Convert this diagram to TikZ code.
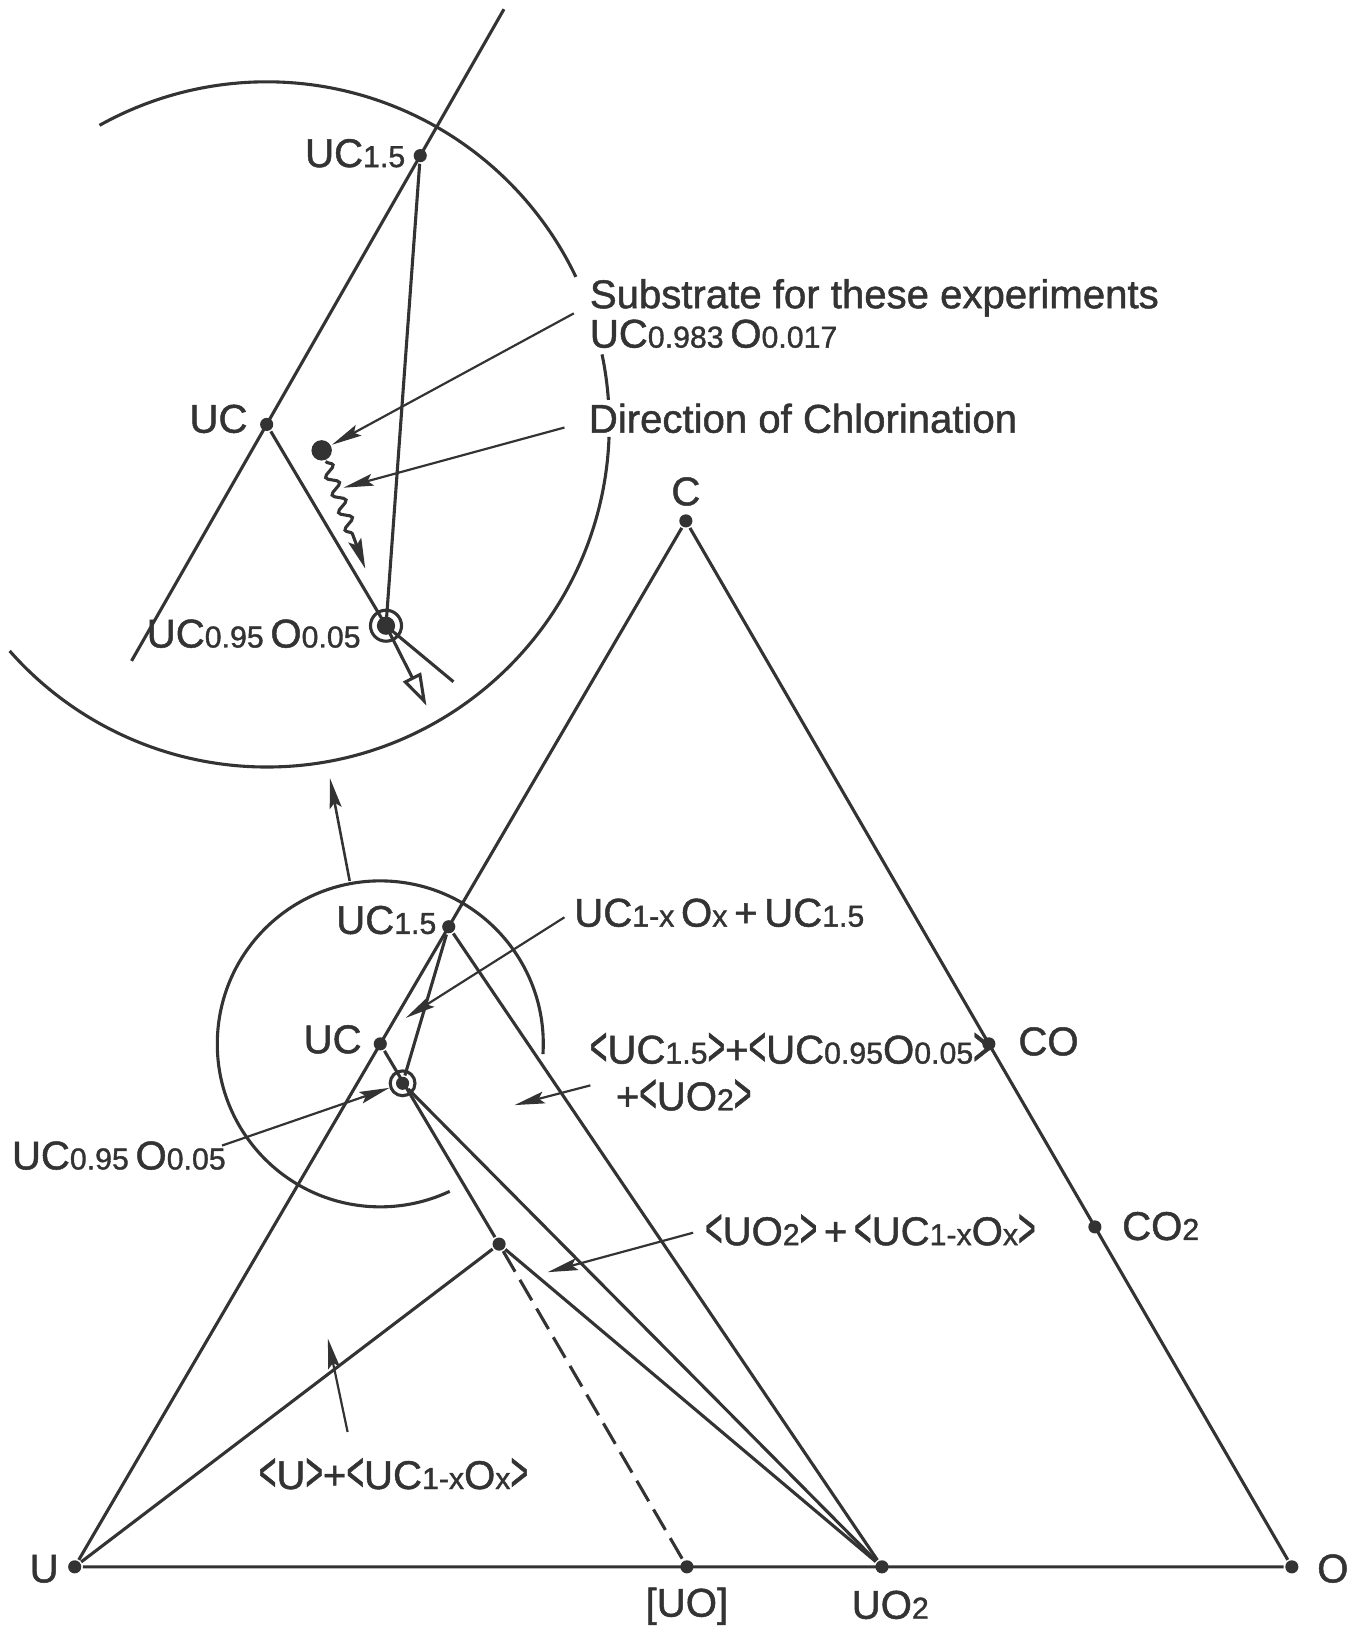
\documentclass[tikz,border=0pt]{standalone}
\usepackage{fontspec}
\setmainfont{Liberation Sans}[FakeBold = 1.2]
\usetikzlibrary{arrows.meta, calc, decorations.pathmorphing}

\newcommand{\sub}[1]{{\fontsize{8.3}{8}\selectfont #1}}
\newcommand{\lb}{\raisebox{-0.05em}{\scalebox{0.75}[1.4]{<}}}
\newcommand{\rb}{\raisebox{-0.05em}{\scalebox{0.75}[1.4]{>}}}

\tikzset{
	dot/.style = {circle, fill, inner sep = 0pt, minimum size = 3.6pt},
	bigdot/.style = {circle, fill, inner sep = 0pt, minimum size = 5pt},
	ring/.style = {circle, draw, inner sep = 0pt, minimum size = #1},
	lbl/.style = {inner sep = 0pt, font = \fontsize{11}{13}\selectfont},
	ptr/.style = {->, line width = 0.6pt}
}

\begin{document}
\begin{tikzpicture}[x = 0.01cm, y = -0.01cm, color = black!80, line width = 0.85pt,
	> = {Stealth[length = 2.9mm, width = 1.15mm, inset = 0.5mm]}]

	\useasboundingbox (0, 0) rectangle (1307, 1568);

	% Definitions

	\def\rsmall{1.57cm}		% radius of the marked region in the triangle
	\def\rbig{3.3cm}		% radius of the enlarged view


	% Ternary diagram U - C - O

	\node [dot] (U) at (72, 1510) {};
	\node [dot] (O) at (1245, 1510) {};
	\node [dot] (C) at (661, 502) {};
	\node [dot] (CO) at ($(C)!0.5!(O)$) {};
	\node [dot] (CO2) at ($(C)!0.675!(O)$) {};
	\node [dot] (UO) at (662, 1510) {};
	\node [dot] (UO2) at (850, 1510) {};
	\node [dot] (UC) at ($(U)!0.5!(C)$) {};
	\node [dot] (UC15) at ($(U)!0.612!(C)$) {};
	\node [dot] (UCO) at (388, 1044) {};
	\node [ring = 6.8pt] (UCOring) at (UCO) {};
	\node [dot] (UCOx) at (481, 1199) {};

	\draw (U) -- (O) -- (C) -- (U);
	\draw (UC) -- (UCOx);
	\draw (UC15) -- (UCO);
	\draw (UC15) -- (UO2);
	\draw (UCO) -- (UO2);
	\draw (UCOx) -- (UO2);
	\draw (U) -- (UCOx);
	\draw [dash pattern = on 6.5pt off 2.6pt] (UCOx) -- (UO);

	\draw (UC) ++(-3.6 : \rsmall) arc [start angle = -3.6, end angle = 295.2, radius = \rsmall];

	\node [lbl, anchor = base] (lC) at (661, 487) {C};
	\node [lbl, anchor = base west] (lCO) at (980, 1017) {CO};
	\node [lbl, anchor = base west] (lCO2) at (1080, 1195) {CO\sub{2}};
	\node [lbl, anchor = base west] (lO) at (1268, 1525) {O};
	\node [lbl, anchor = base east] (lU) at (58, 1525) {U};
	\node [lbl, anchor = base] (lUO) at (662, 1558) {[UO]};
	\node [lbl, anchor = base] (lUO2) at (858, 1560) {UO\sub{2}};
	\node [lbl, anchor = base east] (lUC15) at (422, 900) {UC\sub{1.5}};
	\node [lbl, anchor = base east] (lUC) at (350, 1015) {UC};
	\node [lbl, anchor = base west] (lUCO) at (10, 1127) {UC\sub{0.95}\,O\sub{0.05}};


	% Phase fields and their pointers

	\node [lbl, anchor = base west] (lMixA) at (552, 893) {UC\sub{1-x}\,O\sub{x}\,+\,UC\sub{1.5}};
	\node [lbl, anchor = base west] (lMixB) at (567, 1025) {\lb UC\sub{1.5}\rb+\lb UC\sub{0.95}O\sub{0.05}\rb};
	\node [lbl, anchor = base west] (lMixBb) at (592, 1070) {+\lb UO\sub{2}\rb};
	\node [lbl, anchor = base west] (lMixC) at (678, 1200) {\lb UO\sub{2}\rb\,+\,\lb UC\sub{1-x}O\sub{x}\rb};
	\node [lbl, anchor = base west] (lMixD) at (248, 1435) {\lb U\rb+\lb UC\sub{1-x}O\sub{x}\rb};

	\coordinate (mixAtail) at (544, 884);
	\coordinate (mixAtip) at (391, 981);
	\coordinate (mixBtail) at (569, 1046);
	\coordinate (mixBtip) at (496, 1065);
	\coordinate (mixCtail) at (668, 1188);
	\coordinate (mixCtip) at (528, 1226);
	\coordinate (mixDtail) at (335, 1380);
	\coordinate (mixDtip) at (316, 1290);
	\coordinate (ucoTail) at (214, 1104);

	\draw [ptr] (mixAtail) -- (mixAtip);
	\draw [ptr] (mixBtail) -- (mixBtip);
	\draw [ptr] (mixCtail) -- (mixCtip);
	\draw [ptr] (mixDtail) -- (mixDtip);
	\draw [ptr] (ucoTail) -- (UCOring);

	\coordinate (zoomTail) at (337, 849);
	\coordinate (zoomTip) at (318, 750);
	\draw [->, line width = 0.7pt] (zoomTail) -- (zoomTip);


	% Enlarged view round UC

	\node [dot] (UCi) at (257, 409) {};
	\node [dot] (UC15i) at (405, 150) {};
	\coordinate (lineTop) at ($(UCi)!1.545!(UC15i)$);
	\coordinate (lineBot) at ($(UCi)!-0.88!(UC15i)$);
	\node [bigdot] (UCOi) at (372, 603) {};
	\node [ring = 8.5pt] (UCOiring) at (UCOi) {};
	\coordinate (UCOiend) at (437, 657);
	\coordinate (chlorEnd) at (411, 680);

	\draw (lineBot) -- (lineTop);
	\draw (UCi) -- (UCOi.center) -- (UCOiend);
	\draw (UC15i) -- (UCOi.center);
	\draw [-{Triangle[open, length = 3.1mm, width = 1.9mm]}] (UCOi.center) -- (chlorEnd);

	\draw (UCi) ++(119.2 : \rbig) arc [start angle = 119.2, end angle = 25.5, radius = \rbig];
	\draw (UCi) ++(11.8 : \rbig) arc [start angle = 11.8, end angle = 4.1, radius = \rbig];
	\draw (UCi) ++(-2.1 : \rbig) arc [start angle = -2.1, end angle = -138.6, radius = \rbig];

	% Substrate and its path during chlorination
	\node [bigdot, minimum size = 5.6pt] (sub) at (310, 434) {};
	\coordinate (wavyEnd) at (352, 548);
	\draw [decorate, decoration = {snake, amplitude = 0.55mm, segment length = 1.8mm, post length = 2.8mm},
		-{Stealth[length = 2.9mm, width = 1.3mm, inset = 0.5mm]}] (sub) -- (wavyEnd);

	\node [lbl, anchor = base east] (lUC15i) at (392, 161) {UC\sub{1.5}};
	\node [lbl, anchor = base east] (lUCi) at (240, 417) {UC};
	\node [lbl, anchor = base east] (lUCOi) at (349, 624) {UC\sub{0.95}\,O\sub{0.05}};
	\node [lbl, anchor = base west] (lSub) at (567, 297) {Substrate for these experiments};
	\node [lbl, anchor = base west] (lSubComp) at (567, 335) {UC\sub{0.983}\,O\sub{0.017}};
	\node [lbl, anchor = base west] (lChlor) at (566, 417) {Direction of Chlorination};

	\coordinate (subTail) at (553, 302);
	\coordinate (chlorTail) at (544, 412);
	\coordinate (chlorTip) at (331, 470);
	\draw [ptr] (subTail) -- (sub);
	\draw [ptr] (chlorTail) -- (chlorTip);

\end{tikzpicture}
\end{document}
